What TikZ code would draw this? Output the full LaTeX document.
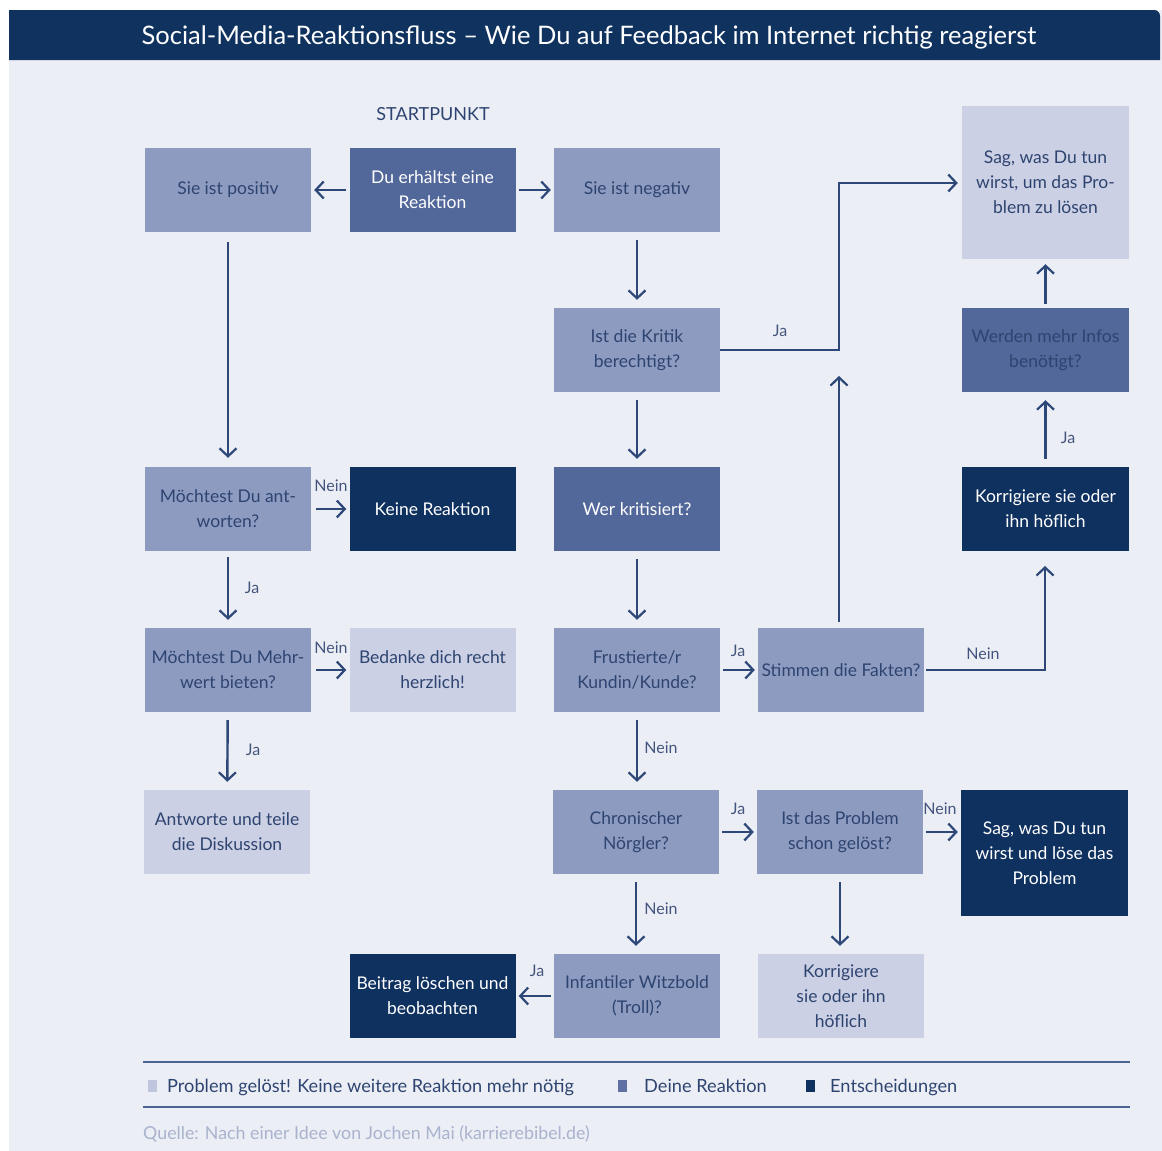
\documentclass[tikz,border=0pt]{standalone}
\usepackage{fontspec}
\setmainfont{Lato}
\usetikzlibrary{arrows.meta}
\definecolor{cBg}{HTML}{ECEEF6}
\definecolor{cTitle}{HTML}{10325F}
\definecolor{cNavy}{HTML}{0F3160}
\definecolor{cLight}{HTML}{CBD0E4}
\definecolor{cMed}{HTML}{8D9BC0}
\definecolor{cMD}{HTML}{52679A}
\definecolor{cArrow}{HTML}{2D4878}
\definecolor{cText}{HTML}{2E4470}
\definecolor{cLbl}{HTML}{44557D}
\definecolor{cSrc}{HTML}{A9B3CD}
\definecolor{cRule}{HTML}{4A6390}
\newcommand{\boxfont}{\fontsize{17.5}{25}\selectfont}
\newcommand{\lblfont}{\fontsize{16}{18}\selectfont}
\tikzset{
  box/.style={rectangle, minimum width=166pt, minimum height=84pt, inner sep=0pt, align=center, font=\boxfont},
  lightbox/.style={box, fill=cLight, text=cText},
  medbox/.style={box, fill=cMed, text=cText},
  mdbox/.style={box, fill=cMD, text=white},
  darkbox/.style={box, fill=cNavy, text=white},
  conn/.style={draw=cArrow, line width=2.4pt, -{Straight Barb[length=8pt,width=17pt,line width=2.2pt]}},
  hconn/.style={conn, shorten <=3pt, shorten >=3pt},
  vconn/.style={conn, shorten <=8pt, shorten >=8pt},
  lbl/.style={font=\lblfont, text=cLbl, inner sep=0pt},
  legtxt/.style={anchor=base west, text=cText, font=\fontsize{18.2}{20}\selectfont, inner sep=0pt},
}
\begin{document}
\begin{tikzpicture}[x=1pt,y=-1pt]
\useasboundingbox (0,0) rectangle (1162,1151);
\fill[white] (0,0) rectangle (1162,1151);
\fill[cBg] (9,10) rectangle (1162,1151);
\fill[cTitle] (9,60) -- (9,10) [rounded corners=6pt] -- (1160,10) [sharp corners] -- (1160,60) -- cycle;
\node[text=white, font=\fontsize{25.5}{28}\selectfont] (title) at (589,37) {Social-Media-Reaktionsfluss – Wie Du auf Feedback im Internet richtig reagierst};

\node[text=cText, font=\fontsize{18}{20}\selectfont] (startlbl) at (433,114) {STARTPUNKT};

% row 1
\node[medbox] (pos) at (228,190) {Sie ist positiv};
\node[mdbox] (start) at (432.5,190) {Du erhältst eine\\Reaktion};
\node[medbox] (neg) at (637,190) {Sie ist negativ};
\node[lightbox, minimum width=167pt, minimum height=153pt] (sag1) at (1045.5,182.5) {Sag, was Du tun\\wirst, um das Pro-\\blem zu lösen};
% row 2
\node[medbox] (kritik) at (637,350) {Ist die Kritik\\berechtigt?};
\node[mdbox, text=cText, minimum width=167pt] (infos) at (1045.5,350) {Werden mehr Infos\\benötigt?};
% row 3
\node[medbox] (antw) at (228,509) {Möchtest Du ant-\\worten?};
\node[darkbox] (keine) at (432.5,509) {Keine Reaktion};
\node[mdbox] (wer) at (637,509) {Wer kritisiert?};
\node[darkbox, minimum width=167pt] (korr1) at (1045.5,509) {Korrigiere sie oder\\ihn höflich};
% row 4
\node[medbox] (mehr) at (228,670) {Möchtest Du Mehr-\\wert bieten?};
\node[lightbox] (bedanke) at (432.5,670) {Bedanke dich recht\\herzlich!};
\node[medbox] (frust) at (637,670) {Frustierte/r\\Kundin/Kunde?};
\node[medbox] (stimmen) at (841,670) {Stimmen die Fakten?};
% row 5
\node[lightbox] (antworte) at (227,832) {Antworte und teile\\die Diskussion};
\node[medbox] (chron) at (636,832) {Chronischer\\Nörgler?};
\node[medbox] (problem) at (840,832) {Ist das Problem\\schon gelöst?};
\node[darkbox, minimum width=167pt, minimum height=126pt] (sag2) at (1044.5,853) {Sag, was Du tun\\wirst und löse das\\Problem};
% row 6
\node[darkbox] (beitrag) at (432.5,996) {Beitrag löschen und\\beobachten};
\node[medbox] (troll) at (637,996) {Infantiler Witzbold\\(Troll)?};
\node[lightbox] (korr2) at (841,996) {Korrigiere\\sie oder ihn\\höflich};

% connectors
\draw[hconn] (start) -- (pos);
\draw[hconn] (start) -- (neg);
\draw[conn, shorten <=10pt, shorten >=9pt] (pos) -- (antw);
\draw[vconn] (neg) -- (kritik);
\coordinate (jaA) at (839,350);
\coordinate (jaB) at (839,183);
\draw[conn, shorten >=4pt] (kritik.east) -- (jaA) -- (jaB) -- (jaB -| sag1.west);
\node[lbl] (lja1) at (780,331) {Ja};
\draw[vconn] (kritik) -- (wer);
\draw[vconn] (wer) -- (frust);
\draw[hconn] (frust) -- (stimmen);
\node[lbl] (lja2) at (738,651) {Ja};
\coordinate (upend) at (839,376);
\draw[conn, shorten <=6pt] (stimmen.north -| upend) -- (upend);
\coordinate (neinB) at (1045,566);
\draw[conn, shorten <=2pt] (stimmen.east) -- (stimmen.east -| neinB) -- (neinB);
\node[lbl] (lnein1) at (983,654) {Nein};
\draw[vconn] (korr1) -- (infos);
\node[lbl] (lja3) at (1068,438) {Ja};
\draw[vconn, shorten <=4pt, shorten >=5pt] (infos) -- (sag1);
\draw[hconn, shorten <=5pt] (antw) -- (keine);
\node[lbl] (lnein2) at (331,486) {Nein};
\draw[vconn, shorten <=6pt] (antw) -- (mehr);
\node[lbl] (lja4) at (252,588) {Ja};
\draw[hconn, shorten <=5pt] (mehr) -- (bedanke);
\node[lbl] (lnein3) at (331,648) {Nein};
\draw[vconn] (mehr) -- (antworte);
\node[lbl] (lja5) at (253,750) {Ja};
\draw[vconn] (frust) -- (frust |- chron.north);
\node[lbl] (lnein4) at (661,748) {Nein};
\draw[hconn] (chron) -- (problem);
\node[lbl] (lja6) at (738,809) {Ja};
\draw[hconn] (problem.east) -- (problem.east -| sag2.west);
\node[lbl] (lnein5) at (940,809) {Nein};
\draw[vconn] (chron) -- (chron |- troll.north);
\node[lbl] (lnein6) at (661,909) {Nein};
\draw[vconn] (problem) -- (problem |- korr2.north);
\draw[hconn] (troll) -- (beitrag);
\node[lbl] (lja7) at (537,971) {Ja};

% legend
\draw[cRule, line width=2pt] (143,1062) -- (1130,1062);
\draw[cRule, line width=2pt] (143,1107) -- (1130,1107);
\fill[cLight!80!cMed] (148,1080) rectangle (157,1092);
\node[legtxt] (leg1) at (167,1092) {Problem gelöst! Keine weitere Reaktion mehr nötig};
\fill[cMD!80!cMed] (618,1080) rectangle (627,1092);
\node[legtxt] (leg2) at (644,1092) {Deine Reaktion};
\fill[cNavy] (806,1080) rectangle (815,1092);
\node[legtxt] (leg3) at (830,1092) {Entscheidungen};
\node[anchor=base west, text=cSrc, font=\fontsize{17.8}{19}\selectfont, inner sep=0pt] (src) at (143,1139) {Quelle: Nach einer Idee von Jochen Mai (karrierebibel.de)};
\end{tikzpicture}
\end{document}
